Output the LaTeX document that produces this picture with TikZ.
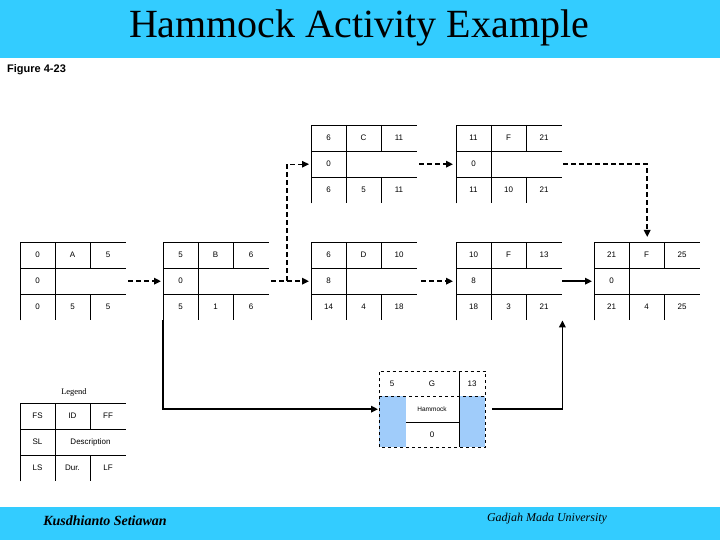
\documentclass[tikz,border=0pt]{standalone}
\usepackage{fontspec}
\setmainfont{Liberation Serif}
\newfontfamily\nodefont{Liberation Sans}
\usetikzlibrary{arrows.meta,calc}
\definecolor{barblue}{RGB}{51,204,255}
\definecolor{hamblue}{RGB}{160,204,250}
\tikzset{
  actbox/.style={draw=none,minimum width=106pt,minimum height=78pt,inner sep=0pt,anchor=north west},
  grid/.style={line width=0.9pt,black},
  cell/.style={font=\nodefont\fontsize{8}{9}\selectfont,inner sep=0pt},
  dasharr/.style={line width=1.8pt,dash pattern=on 5pt off 3pt,-{Triangle[length=7pt,width=6.5pt]}},
  solarr/.style={line width=1.8pt,-{Triangle[length=7pt,width=6.5pt]}},
}
\newcommand\actnode[9]{%
  \node[actbox] (#1) at (#2) {};
  \draw[grid] (#1.south west) -- (#1.north west) -- (#1.north east);
  \draw[grid] ($(#1.north west)+(0,26)$) -- +(106,0);
  \draw[grid] ($(#1.north west)+(0,52)$) -- +(106,0);
  \draw[grid] ($(#1.north west)+(35,0)$) -- +(0,78);
  \draw[grid] ($(#1.north west)+(70,0)$) -- +(0,26);
  \draw[grid] ($(#1.north west)+(70,52)$) -- +(0,26);
  \node[cell] (#1-es) at ($(#1.north west)+(17.5,13)$) {#3};
  \node[cell] (#1-id) at ($(#1.north west)+(52.5,13)$) {#4};
  \node[cell] (#1-ef) at ($(#1.north west)+(88,13)$) {#5};
  \node[cell] (#1-sl) at ($(#1.north west)+(17.5,39)$) {#6};
  \node[cell] (#1-ls) at ($(#1.north west)+(17.5,65)$) {#7};
  \node[cell] (#1-du) at ($(#1.north west)+(52.5,65)$) {#8};
  \node[cell] (#1-lf) at ($(#1.north west)+(88,65)$) {#9};
}
\begin{document}
\begin{tikzpicture}[x=1pt,y=-1pt]
\useasboundingbox (0,0) rectangle (720,540);
% bars
\fill[barblue] (0,0) rectangle (720,58);
\fill[barblue] (0,507) rectangle (720,540);
\node[font=\fontsize{40}{40}\selectfont,inner sep=0pt] (title) at (359,28) {Hammock Activity Example};
\node[font=\nodefont\bfseries\fontsize{11}{12}\selectfont,anchor=west,inner sep=0pt] (fig) at (7,70) {Figure 4-23};
\node[font=\bfseries\itshape\fontsize{14}{14}\selectfont,inner sep=0pt] (auth) at (105,521) {Kusdhianto Setiawan};
\node[font=\itshape\fontsize{12}{12}\selectfont,inner sep=0pt] (univ) at (547,519) {Gadjah Mada University};

% activity nodes
\actnode{A}{20,242}{0}{A}{5}{0}{0}{5}{5}
\actnode{B}{163,242}{5}{B}{6}{0}{5}{1}{6}
\actnode{C}{311,125}{6}{C}{11}{0}{6}{5}{11}
\actnode{Ft}{456,125}{11}{F}{21}{0}{11}{10}{21}
\actnode{D}{311,242}{6}{D}{10}{8}{14}{4}{18}
\actnode{Fm}{456,242}{10}{F}{13}{8}{18}{3}{21}
\actnode{Fr}{594,242}{21}{F}{25}{0}{21}{4}{25}

% legend
\node[font=\fontsize{8.5}{9}\selectfont,inner sep=0pt] (legt) at (74,392) {Legend};
\actnode{L}{20,403}{FS}{ID}{FF}{SL}{LS}{Dur.}{LF}
\node[cell] (L-desc) at ($(L.north west)+(70.5,39)$) {Description};

% hammock node
\node[draw=none,minimum width=106pt,minimum height=76pt,inner sep=0pt,anchor=north west] (H) at (379,371) {};
\fill[hamblue] ($(H.north west)+(0,25)$) rectangle ($(H.north west)+(27,76)$);
\fill[hamblue] ($(H.north west)+(80,25)$) rectangle ($(H.north west)+(106,76)$);
\draw[grid,dashed] (H.south west) rectangle (H.north east);
\draw[grid,dashed] ($(H.north west)+(0,25)$) -- +(106,0);
\draw[grid] ($(H.north west)+(80,0)$) -- +(0,76);
\draw[grid] ($(H.north west)+(27,51)$) -- +(53,0);
\node[cell] (H-es) at ($(H.north west)+(13,13)$) {5};
\node[cell] (H-id) at ($(H.north west)+(53,13)$) {G};
\node[cell] (H-ef) at ($(H.north west)+(93,13)$) {13};
\node[cell,font=\nodefont\fontsize{6.5}{7}\selectfont] (H-desc) at ($(H.north west)+(53,38)$) {Hammock};
\node[cell] (H-du) at ($(H.north west)+(53,64)$) {0};

% connectors
\coordinate (j1) at (287,281);
\draw[dasharr] ([xshift=2pt]A.east) -- ([xshift=-2pt]B.west);
\draw[dasharr] ([xshift=2pt]B.east) -- ([xshift=-2pt]D.west);
\draw[dasharr,line width=1.2pt] (j1) |- ([xshift=-2pt]C.west);
\draw[dasharr] ([xshift=2pt]C.east) -- ([xshift=-3pt]Ft.west);
\draw[dasharr] ([xshift=1pt]Ft.east) -| ([yshift=5pt]Fr.north);
\draw[dasharr] ([xshift=4pt]D.east) -- ([xshift=-3pt]Fm.west);
\draw[solarr] (Fm.east) -- ([xshift=-2pt]Fr.west);
\draw[solarr] (B.south west) |- ([xshift=-1pt]H.west);
\draw[solarr] ([xshift=7pt]H.east) -| (Fm.south east);
\end{tikzpicture}
\end{document}
